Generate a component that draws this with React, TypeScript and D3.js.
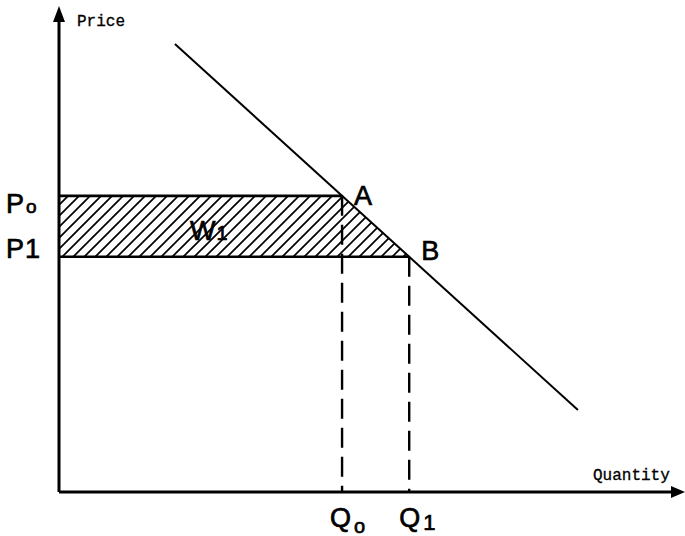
import React from "react";
import * as d3 from "d3";

// Data (in chart units)
const demandStart = { q: 1.87, p: 9.256 };
const demandEnd = { q: 8.37, p: 1.694 };
const priceLevels = [
  { name: "P", sub: "o", p: 6.12 },
  { name: "P", sub: "1", p: 4.86 },
];
const axisLabels = { x: "Quantity", y: "Price" };

const W = 685;
const H = 536;

export default function App() {
  const x = d3.scaleLinear().domain([0, 10]).range([59, 679]);
  const y = d3.scaleLinear().domain([0, 10]).range([492, 8]);

  const slope = (demandEnd.p - demandStart.p) / (demandEnd.q - demandStart.q);
  const qAt = (p: number) => demandStart.q + (p - demandStart.p) / slope;
  const [P0, P1] = [priceLevels[0].p, priceLevels[1].p];
  const Q0 = qAt(P0);
  const Q1 = qAt(P1);

  const line = d3
    .line<[number, number]>()
    .x((d) => x(d[0]))
    .y((d) => y(d[1]));

  const poly: [number, number][] = [
    [0, P0],
    [Q0, P0],
    [Q1, P1],
    [0, P1],
  ];

  const x0 = x(0);
  const y0 = y(0);

  return (
    <svg width={W} height={H} style={{ display: "block", position: "absolute", left: 0, top: 0, background: "#fff" }}>
      <defs>
        <pattern id="hatch" patternUnits="userSpaceOnUse" width={11} height={11}>
          <path d="M-2,2 l4,-4 M0,11 l11,-11 M9,13 l4,-4" stroke="#000" strokeWidth={1.7} />
        </pattern>
      </defs>
      <rect width={W} height={H} fill="#fff" />
      {/* hatched welfare area */}
      <path d={line(poly) + "Z"} fill="url(#hatch)" stroke="none" />
      {/* top and bottom edges */}
      <line x1={x0} x2={x(Q0)} y1={y(P0)} y2={y(P0)} stroke="#000" strokeWidth={2.8} />
      <line x1={x0} x2={x(Q1)} y1={y(P1)} y2={y(P1)} stroke="#000" strokeWidth={2.4} />
      {/* dashed drops */}
      <line x1={x(Q0)} x2={x(Q0)} y1={y(P0)} y2={y0} stroke="#000" strokeWidth={2.4} strokeDasharray="20,9" />
      <line x1={x(Q1)} x2={x(Q1)} y1={y(P1)} y2={y0} stroke="#000" strokeWidth={2.4} strokeDasharray="20,9" />
      {/* demand line */}
      <path
        d={line([
          [demandStart.q, demandStart.p],
          [demandEnd.q, demandEnd.p],
        ]) as string}
        stroke="#000"
        strokeWidth={2}
        fill="none"
      />
      {/* axes */}
      <line x1={x0} x2={x0} y1={y0} y2={y(10) + 8} stroke="#000" strokeWidth={3} />
      <line x1={x0} x2={x(10) - 4} y1={y0} y2={y0} stroke="#000" strokeWidth={3} />
      <path d={`M${x0},${y(10) - 2} L${x0 - 6},${y(10) + 14} L${x0 + 6},${y(10) + 14} Z`} fill="#000" />
      <path d={`M${x(10) + 6},${y0} L${x(10) - 8},${y0 - 6} L${x(10) - 8},${y0 + 6} Z`} fill="#000" />
      {/* axis labels */}
      <text x={x0 + 18} y={26} fontFamily="Liberation Mono, monospace" fontSize={16} stroke="#000" strokeWidth={0.3}>
        {axisLabels.y}
      </text>
      <text x={593} y={480} fontFamily="Liberation Mono, monospace" fontSize={16} stroke="#000" strokeWidth={0.3}>
        {axisLabels.x}
      </text>
      {/* price labels */}
      <g fontFamily="Liberation Sans, Arial, sans-serif" fontSize={27} stroke="#000" strokeWidth={0.7}>
        <text x={6} y={213}>
          P<tspan fontSize={19} dx={2}>{priceLevels[0].sub}</tspan>
        </text>
        <text x={6} y={258}>
          P<tspan dx={1}>{priceLevels[1].sub}</tspan>
        </text>
        <text x={x(Q0) + 12} y={205}>A</text>
        <text x={x(Q1) + 12} y={260}>B</text>
        <text x={190} y={240}>
          W<tspan fontSize={20} dx={1}>1</tspan>
        </text>
        <text x={x(Q0) - 12} y={527}>
          Q<tspan fontSize={20} dx={3} dy={6}>o</tspan>
        </text>
        <text x={x(Q1) - 10} y={527}>
          Q<tspan fontSize={22} dx={3} dy={3}>1</tspan>
        </text>
      </g>
    </svg>
  );
}
